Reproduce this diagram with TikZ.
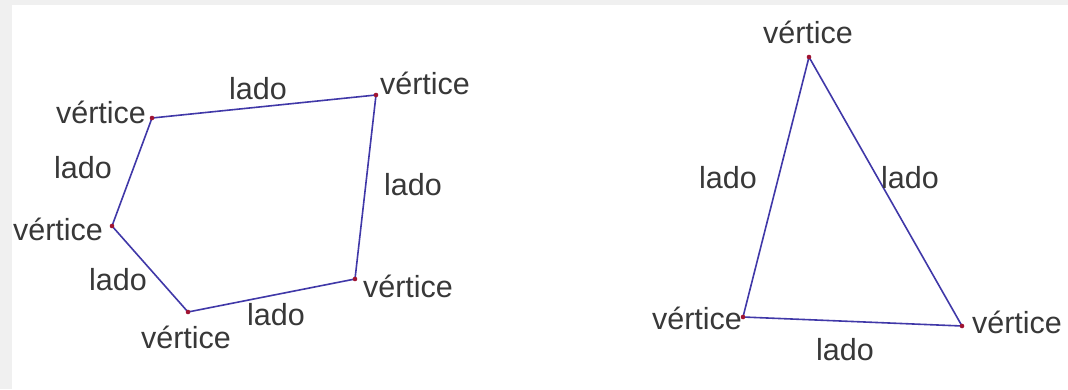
\documentclass[tikz,border=0pt]{standalone}
\usepackage{fontspec}
\setmainfont{Liberation Sans}
\definecolor{azullado}{RGB}{64,56,168}
\definecolor{rojopunto}{RGB}{160,20,50}
\definecolor{grisfondo}{RGB}{240,240,240}
\begin{document}
\begin{tikzpicture}[x=1pt, y=-1pt,
    lado/.style={azullado, line width=1.6pt, line join=round},
    punto/.style={rojopunto},
    etiq/.style={font=\fontsize{30.5}{36}\selectfont, text=black!78, inner sep=0pt, anchor=base}]
  \useasboundingbox (0,0) rectangle (1068,389);
  \fill[grisfondo] (0,0) rectangle (1068,389);
  \fill[white] (12,5) rectangle (1068,389);
  % poligono
  \coordinate (p1) at (152,118);
  \coordinate (p2) at (376,95);
  \coordinate (p3) at (355,279);
  \coordinate (p4) at (188,312);
  \coordinate (p5) at (112,226);
  \draw[lado] (p1) -- (p2) -- (p3) -- (p4) -- (p5) -- cycle;
  \foreach \p in {p1,p2,p3,p4,p5}
    \fill[punto] (\p) circle (2.3);
  \node[etiq] (v1) at (101,123) {vértice};
  \node[etiq] (v2) at (425,94)  {vértice};
  \node[etiq] (v3) at (408,297) {vértice};
  \node[etiq] (v4) at (186,348) {vértice};
  \node[etiq] (v5) at (58,240)  {vértice};
  \node[etiq] (l12) at (258,99)  {lado};
  \node[etiq] (l23) at (413,195) {lado};
  \node[etiq] (l34) at (276,325) {lado};
  \node[etiq] (l45) at (118,290) {lado};
  \node[etiq] (l51) at (83,178)  {lado};
  % triangulo
  \coordinate (t1) at (809,57);
  \coordinate (t2) at (743,317);
  \coordinate (t3) at (962,326);
  \draw[lado] (t1) -- (t2) -- (t3) -- cycle;
  \foreach \p in {t1,t2,t3}
    \fill[punto] (\p) circle (2.3);
  \node[etiq] (w1) at (808,43)  {vértice};
  \node[etiq] (w2) at (697,329) {vértice};
  \node[etiq] (w3) at (1017,333) {vértice};
  \node[etiq] (m12) at (728,188) {lado};
  \node[etiq] (m13) at (910,188) {lado};
  \node[etiq] (m23) at (845,360) {lado};
\end{tikzpicture}
\end{document}
